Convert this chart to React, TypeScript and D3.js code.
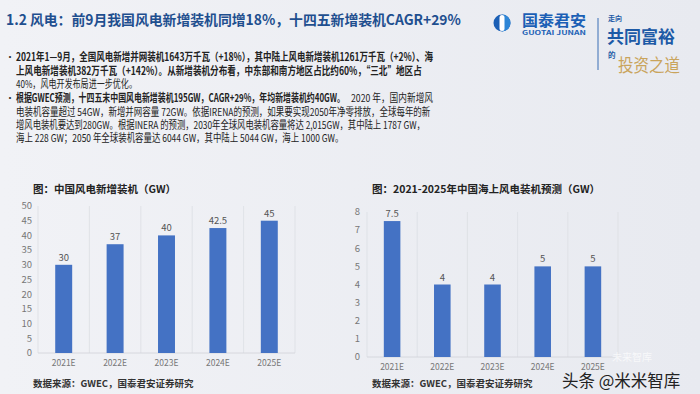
import React, { useLayoutEffect, useRef, useState } from "react";
import * as d3 from "d3";

const W = 700;
const H = 394;

// left chart: China new wind installations
const years = ["2021E", "2022E", "2023E", "2024E", "2025E"];
const newInstall = [30, 37, 40, 42.5, 45];
const newInstallTicks = [0, 5, 10, 15, 20, 25, 30, 35, 40, 45, 50];

// right chart: offshore wind forecast
const offshore = [7.5, 4, 4, 5, 5];
const offshoreTicks = [0, 1, 2, 3, 4, 5, 6, 7, 8];

const title = "1.2 风电：前9月我国风电新增装机同增18%，十四五新增装机CAGR+29%";
const leftTitle = "图：中国风电新增装机（GW）";
const rightTitle = "图：2021-2025年中国海上风电装机预测（GW）";
const source = "数据来源：GWEC，国泰君安证券研究";

// text pieces: [text, x, width, bold]
const bodyLines: [string, number, number, boolean][][] = [
  [["2021年1—9月，全国风电新增并网装机1643万千瓦（+18%），其中陆上风电新增装机1261万千瓦（+2%）、海", 16, 417, true]],
  [["上风电新增装机382万千瓦（+142%）。从新增装机分布看，中东部和南方地区占比约60%，“三北”地区占", 16, 406, true]],
  [["40%，风电开发布局进一步优化。", 16, 121, false]],
  [
    ["根据GWEC预测，十四五末中国风电新增装机195GW，CAGR+29%，年均新增装机约40GW。", 16, 329, true],
    ["2020 年，国内新增风", 351, 82, false],
  ],
  [["电装机容量超过 54GW，新增并网容量 72GW。依据IRENA的预测，如果要实现2050年净零排放，全球每年的新", 16, 414, false]],
  [["增风电装机要达到280GW。根据INERA 的预测，2030年全球风电装机容量将达 2,015GW，其中陆上 1787 GW，", 16, 409, false]],
  [["海上 228 GW；2050 年全球装机容量达 6044 GW，其中陆上 5044 GW，海上 1000 GW。", 16, 327, false]],
];
const lineY = [61, 75, 88, 102, 116, 129, 142];
const bulletRows = [0, 3];

const FONT = "'Noto Sans CJK SC', 'Noto Sans', sans-serif";
const BAR = "#4472C4";

// squeeze a text horizontally so it spans the given width
const FitText = ({ x, y, width, children, ...rest }: any) => {
  const ref = useRef<SVGTextElement>(null);
  const [s, setS] = useState(1);
  useLayoutEffect(() => {
    const measure = () => {
      if (!ref.current) return;
      const w = ref.current.getComputedTextLength();
      if (w > 0) setS(width / w);
    };
    measure();
    if ((document as any).fonts) (document as any).fonts.ready.then(measure);
  }, [width, children]);
  return (
    <text ref={ref} transform={`translate(${x},${y}) scale(${s},1)`} {...rest}>
      {children}
    </text>
  );
};

type ChartProps = {
  x0: number;
  x1: number;
  yTop: number;
  yBottom: number;
  values: number[];
  ticks: number[];
  max: number;
  labelX: number;
  catY: number;
};

const fmt = (v: number) => (Number.isInteger(v) ? String(v) : v.toFixed(1));

const BarChart = ({ x0, x1, yTop, yBottom, values, ticks, max, labelX, catY }: ChartProps) => {
  const x = d3.scaleBand<string>().domain(years).range([x0, x1]).padding(0);
  const y = d3.scaleLinear().domain([0, max]).range([yBottom, yTop]);
  const bw = x.bandwidth() * 0.33;
  const bounds = [...years.map((c) => x(c) as number), x1];
  return (
    <g>
      {bounds.map((b, i) => (
        <line key={i} x1={b} x2={b} y1={yTop} y2={yBottom} stroke="#dcdee3" strokeWidth={0.8} />
      ))}
      <line x1={x0} x2={x1} y1={yBottom} y2={yBottom} stroke="#d0d2d8" strokeWidth={0.8} />
      {ticks.map((t) => (
        <text key={t} x={labelX} y={y(t)} dy="0.35em" textAnchor="end" fontSize={9.5} fill="#777">
          {t}
        </text>
      ))}
      {years.map((c, i) => {
        const cx = (x(c) as number) + x.bandwidth() / 2;
        return (
          <g key={c}>
            <rect x={cx - bw / 2} y={y(values[i])} width={bw} height={yBottom - y(values[i])} fill={BAR} />
            <text x={cx} y={y(values[i]) - 4} textAnchor="middle" fontSize={9.5} fill="#555">
              {fmt(values[i])}
            </text>
            <text x={cx} y={catY} textAnchor="middle" fontSize={8.5} fill="#777">
              {c}
            </text>
          </g>
        );
      })}
    </g>
  );
};

const App = () => {
  return (
    <svg width={W} height={H} style={{ position: "absolute", left: 0, top: 0 }} fontFamily={FONT}>
      <defs>
        <linearGradient id="bg" x1="0" x2="1" y1="0" y2="0">
          <stop offset="0" stopColor="#f1f2f6" />
          <stop offset="1" stopColor="#e8eaf0" />
        </linearGradient>
      </defs>
      <rect width={W} height={H} fill="url(#bg)" />

      <FitText x={6} y={25} width={455} fontSize={14} fontWeight="bold" fill="#1f4f8f">
        {title}
      </FitText>

      {/* logo */}
      <g>
        <circle cx={502} cy={23} r={8.5} fill="#1b5fb5" />
        <path d="M502,14.5 A8.5,8.5 0 0 1 502,31.5 Z" fill="#2f86d6" />
        <rect x={499.5} y={15} width={5} height={16} rx={2.5} fill="#ffffff" />
        <FitText x={522} y={26} width={64} fontSize={15} fontWeight="bold" fill="#1b5fb5">国泰君安</FitText>
        <FitText x={522} y={35} width={64} fontSize={5.5} fontWeight="bold" fill="#1b5fb5">GUOTAI JUNAN</FitText>
        <line x1={598} x2={598} y1={18} y2={70} stroke="#3a6fb5" strokeWidth={1} />
        <text x={608} y={21} fontSize={7} fontWeight="bold" fill="#1d5aa6">走向</text>
        <FitText x={607} y={43} width={68} fontSize={17} fontWeight="bold" fill="#1d5aa6">共同富裕</FitText>
        <text x={608} y={58} fontSize={7.5} fontWeight="bold" fill="#1d5aa6">的</text>
        <FitText x={618} y={72} width={62} fontSize={18} fill="#c9a45c">投资之道</FitText>
      </g>

      {/* bullets */}
      {bulletRows.map((r) => (
        <text key={r} x={5} y={lineY[r]} fontSize={10} fill="#333">•</text>
      ))}
      {bodyLines.map((pieces, i) =>
        pieces.map(([t, x, w, bold], j) => (
          <FitText
            key={i + "-" + j}
            x={x}
            y={lineY[i]}
            width={w}
            fontSize={11}
            fontWeight={bold ? "bold" : "normal"}
            fill="#222"
          >
            {t}
          </FitText>
        ))
      )}

      {/* chart titles */}
      <text x={33} y={193} fontSize={10.5} fontWeight="bold" fill="#222">{leftTitle}</text>
      <text x={372} y={193} fontSize={10.5} fontWeight="bold" fill="#222">{rightTitle}</text>

      <BarChart x0={38} x1={295} yTop={206} yBottom={353} values={newInstall} ticks={newInstallTicks} max={50} labelX={32} catY={366} />
      <BarChart x0={367} x1={618} yTop={212} yBottom={357} values={offshore} ticks={offshoreTicks} max={8} labelX={360} catY={370} />

      <text x={33} y={387} fontSize={9.5} fontWeight="bold" fill="#333">{source}</text>
      <text x={372} y={387} fontSize={9.5} fontWeight="bold" fill="#333">{source}</text>

      {/* watermark */}
      <text x={612} y={361} fontSize={10} fill="#ffffff" opacity={0.7}>未来智库</text>
      <text x={562} y={387} fontSize={16.5} fill="#222">头条 @米米智库</text>
    </svg>
  );
};

export default App;
